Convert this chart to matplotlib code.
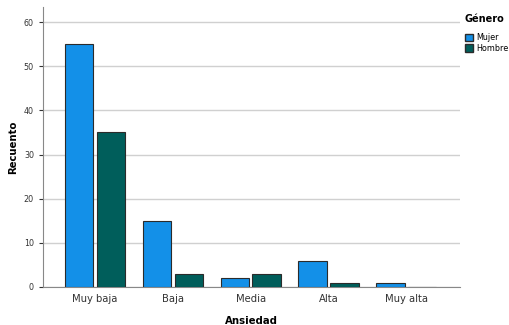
import numpy as np
import matplotlib.pyplot as plt
from matplotlib.patches import Patch

# data
categories = ['Muy baja', 'Baja', 'Media', 'Alta', 'Muy alta']
mujer = [55, 15, 2, 6, 1]
hombre = [35, 3, 3, 1, 0]
yticks = [0, 10, 20, 30, 40, 50, 60]

c_mujer = '#1390e8'
c_hombre = '#005e5b'
edge = '#2b2b2b'

fig = plt.figure(figsize=(5.09, 3.25), dpi=100)
ax = fig.add_axes([43/509, 38/325, 417/509, 280/325])

x = np.arange(len(categories))
w = 0.365
ax.bar(x - 0.205, mujer, w, color=c_mujer, edgecolor=edge, linewidth=0.8, zorder=3)
ax.bar(x + 0.205, hombre, w, color=c_hombre, edgecolor=edge, linewidth=0.8, zorder=3)

ax.set_xlim(-0.67, 4.69)
ax.set_ylim(0, 63.4)
ax.set_yticks(yticks)
ax.set_xticks(x)
ax.set_xticklabels(categories, fontsize=7.2, color='#333333')
ax.tick_params(axis='y', labelsize=5.8, colors='#333333', length=3, width=0.8)
ax.tick_params(axis='x', length=0, pad=5)
ax.grid(axis='y', color='#d0d0d0', linewidth=1, zorder=0)

for s in ['top', 'right']:
    ax.spines[s].set_visible(False)
for s in ['left', 'bottom']:
    ax.spines[s].set_color('#888888')
    ax.spines[s].set_linewidth(0.8)

ax.set_xlabel('Ansiedad', fontsize=7.3, fontweight='bold', labelpad=9)
ax.set_ylabel('Recuento', fontsize=7.3, fontweight='bold', labelpad=4)

handles = [Patch(facecolor=c_mujer, edgecolor=edge, label='Mujer'),
           Patch(facecolor=c_hombre, edgecolor=edge, label='Hombre')]
leg = fig.legend(handles=handles, title='Género', loc='upper left',
                 bbox_to_anchor=(459/509, 1 - 8/325), frameon=False,
                 fontsize=5.8, title_fontproperties={'weight': 'bold', 'size': 7},
                 handlelength=1.1, handleheight=1.1, handletextpad=0.4,
                 labelspacing=0.2, borderpad=0.2)
leg._legend_box.align = 'left'
leg._legend_box.sep = 7

fig.savefig('out.png', dpi=100)
